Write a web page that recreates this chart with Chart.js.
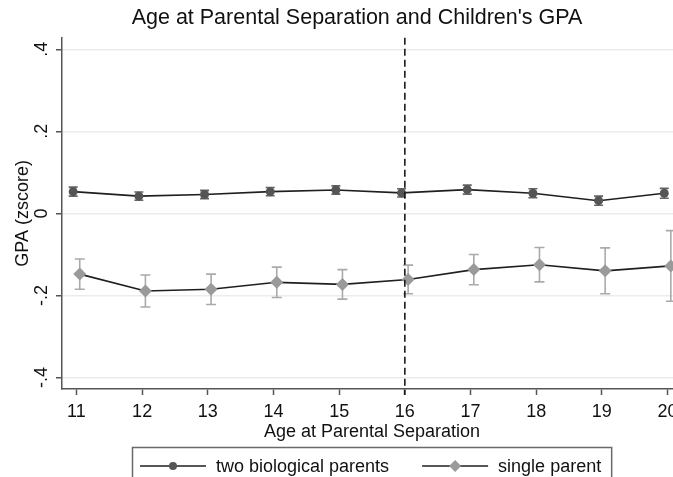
<!DOCTYPE html>
<html>
<head>
<meta charset="utf-8">
<title>Age at Parental Separation and Children's GPA</title>
<script src="https://cdn.jsdelivr.net/npm/chart.js@4/dist/chart.umd.min.js"></script>
<style>
  html, body { margin: 0; padding: 0; background: #ffffff; overflow: hidden; }
  #wrap { width: 714px; height: 477px; }
</style>
</head>
<body>
<div id="wrap"><canvas id="gpa" width="714" height="477"></canvas></div>
<script>
// ---- data ----
const ages = [11, 12, 13, 14, 15, 16, 17, 18, 19, 20];
const twoParentMean   = [0.053, 0.042, 0.046, 0.053, 0.057, 0.050, 0.058, 0.049, 0.031, 0.049];
const twoParentHalfCI = [0.011, 0.010, 0.010, 0.010, 0.010, 0.010, 0.011, 0.011, 0.011, 0.012];
const singleParentMean   = [-0.148, -0.189, -0.185, -0.168, -0.173, -0.161, -0.137, -0.125, -0.140, -0.128];
const singleParentHalfCI = [0.037, 0.039, 0.037, 0.037, 0.036, 0.035, 0.037, 0.042, 0.056, 0.086];
const seriesNames = ['two biological parents', 'single parent'];
const xTickValues = [11, 12, 13, 14, 15, 16, 17, 18, 19, 20];
const xTickLabels = ['11', '12', '13', '14', '15', '16', '17', '18', '19', '20'];
const yTickValues = [-0.4, -0.2, 0, 0.2, 0.4];
const yTickLabels = ['-.4', '-.2', '0', '.2', '.4'];
const cutoffAge = 16;

// ---- style ----
const FONT = '"Liberation Sans", Arial, Helvetica, sans-serif';
const TEXT = '#111111';
const AXIS = '#555555';
const DODGE = 0.05;           // small horizontal shift so the two series don't overlap
const styles = [
  { line: '#1f1f1f', fill: '#555555', err: '#666666', cap: 4.5, shape: 'circle',  r: 4.5, legendR: 4 },
  { line: '#1f1f1f', fill: '#9a9a9a', err: '#aaaaaa', cap: 5,   shape: 'rectRot', r: 6.5, legendR: 6 }
];

const means = [twoParentMean, singleParentMean];
const halfCI = [twoParentHalfCI, singleParentHalfCI];
const shifts = [-DODGE, DODGE];

const datasets = means.map((m, k) => ({
  label: seriesNames[k],
  data: ages.map((a, i) => ({ x: a + shifts[k], y: m[i] })),
  borderColor: styles[k].line,
  borderWidth: 1.6,
  tension: 0,
  pointStyle: styles[k].shape,
  pointRadius: styles[k].r,
  pointHoverRadius: styles[k].r,
  pointBackgroundColor: styles[k].fill,
  pointBorderColor: styles[k].fill,
  pointBorderWidth: 0,
  clip: false
}));

// confidence-interval caps, drawn underneath lines and markers
const errorBars = {
  id: 'errorBars',
  beforeDatasetsDraw(chart) {
    const { ctx } = chart;
    const y = chart.scales.y;
    chart.data.datasets.forEach((ds, k) => {
      const meta = chart.getDatasetMeta(k);
      ctx.save();
      ctx.strokeStyle = styles[k].err;
      ctx.lineWidth = 1.6;
      meta.data.forEach((pt, i) => {
        const yt = y.getPixelForValue(means[k][i] + halfCI[k][i]);
        const yb = y.getPixelForValue(means[k][i] - halfCI[k][i]);
        const c = styles[k].cap;
        ctx.beginPath();
        ctx.moveTo(pt.x, yt); ctx.lineTo(pt.x, yb);
        ctx.moveTo(pt.x - c, yt); ctx.lineTo(pt.x + c, yt);
        ctx.moveTo(pt.x - c, yb); ctx.lineTo(pt.x + c, yb);
        ctx.stroke();
      });
      ctx.restore();
    });
  }
};

// dashed reference line at the cutoff age
const cutoffLine = {
  id: 'cutoffLine',
  afterDatasetsDraw(chart) {
    const { ctx, chartArea } = chart;
    const x = chart.scales.x.getPixelForValue(cutoffAge);
    ctx.save();
    ctx.strokeStyle = '#1a1a1a';
    ctx.lineWidth = 1.6;
    ctx.setLineDash([7, 4]);
    ctx.beginPath();
    ctx.moveTo(x, chartArea.top);
    ctx.lineTo(x, chartArea.bottom + 6);
    ctx.stroke();
    ctx.restore();
  }
};

// boxed legend below the axis title
const boxedLegend = {
  id: 'boxedLegend',
  afterDraw(chart) {
    const { ctx, chartArea } = chart;
    ctx.save();
    ctx.font = '18px ' + FONT;
    const lineLen = 66, gapText = 10, gapItem = 33, padL = 8, padR = 10;
    const widths = seriesNames.map(s => ctx.measureText(s).width);
    const total = padL + lineLen * 2 + gapText * 2 + widths[0] + widths[1] + gapItem + padR;
    const cx = (chartArea.left + chartArea.right) / 2;
    const left = Math.round(cx - total / 2);
    const top = 447;
    ctx.strokeStyle = '#6a6a6a';
    ctx.lineWidth = 1.5;
    ctx.strokeRect(left + 0.5, top + 0.5, total, 40);
    const ym = top + 19;
    let x = left + padL;
    seriesNames.forEach((name, k) => {
      ctx.strokeStyle = styles[k].line;
      ctx.lineWidth = 1.6;
      ctx.beginPath();
      ctx.moveTo(x, ym); ctx.lineTo(x + lineLen, ym);
      ctx.stroke();
      const mx = x + lineLen / 2;
      ctx.fillStyle = styles[k].fill;
      ctx.beginPath();
      if (styles[k].shape === 'circle') {
        ctx.arc(mx, ym, styles[k].legendR, 0, Math.PI * 2);
      } else {
        const r = styles[k].legendR;
        ctx.moveTo(mx - r, ym); ctx.lineTo(mx, ym - r);
        ctx.lineTo(mx + r, ym); ctx.lineTo(mx, ym + r); ctx.closePath();
      }
      ctx.fill();
      x += lineLen + gapText;
      ctx.fillStyle = TEXT;
      ctx.textBaseline = 'middle';
      ctx.textAlign = 'left';
      ctx.fillText(name, x, ym + 1);
      x += widths[k] + gapItem;
    });
    ctx.restore();
  }
};

new Chart(document.getElementById('gpa'), {
  type: 'line',
  data: { datasets },
  plugins: [errorBars, cutoffLine, boxedLegend],
  options: {
    responsive: false,
    devicePixelRatio: 1,
    animation: false,
    events: [],
    layout: { padding: { left: 32, right: 32, top: 0, bottom: 30 } },
    plugins: {
      legend: { display: false },
      tooltip: { enabled: false },
      title: {
        display: true,
        text: "Age at Parental Separation and Children's GPA",
        color: TEXT,
        font: { family: FONT, size: 21.5, weight: 'normal' },
        padding: { top: 5, bottom: 7 }
      }
    },
    scales: {
      x: {
        type: 'linear',
        min: 10.78,
        max: 20.22,
        afterBuildTicks: s => { s.ticks = xTickValues.map(v => ({ value: v })); },
        afterFit: s => { s.height = 58; },
        ticks: {
          autoSkip: false, maxRotation: 0, minRotation: 0,
          padding: 6,
          color: TEXT,
          font: { family: FONT, size: 18 },
          callback: (v, i) => xTickLabels[i]
        },
        grid: { drawOnChartArea: false, drawTicks: true, tickLength: 6, tickColor: AXIS, tickWidth: 1.5 },
        border: { display: true, color: AXIS, width: 1.5 },
        title: {
          display: true,
          text: 'Age at Parental Separation',
          color: TEXT,
          font: { family: FONT, size: 18 },
          padding: { top: 0, bottom: 4 }
        }
      },
      y: {
        type: 'linear',
        min: -0.428,
        max: 0.428,
        afterBuildTicks: s => { s.ticks = yTickValues.map(v => ({ value: v })); },
        afterFit: s => { s.width = 30; },
        ticks: {
          minRotation: 90, maxRotation: 90,
          crossAlign: 'center',
          padding: 3,
          color: TEXT,
          font: { family: FONT, size: 18 },
          callback: (v, i) => yTickLabels[i]
        },
        grid: { color: '#ececec', lineWidth: 1.5, tickLength: 6, tickColor: AXIS, tickWidth: 1.5 },
        border: { display: true, color: AXIS, width: 1.5 },
        title: {
          display: true,
          text: 'GPA (zscore)',
          color: TEXT,
          font: { family: FONT, size: 18 },
          padding: { top: -20, bottom: 0 }
        }
      }
    }
  }
});
</script>
</body>
</html>
